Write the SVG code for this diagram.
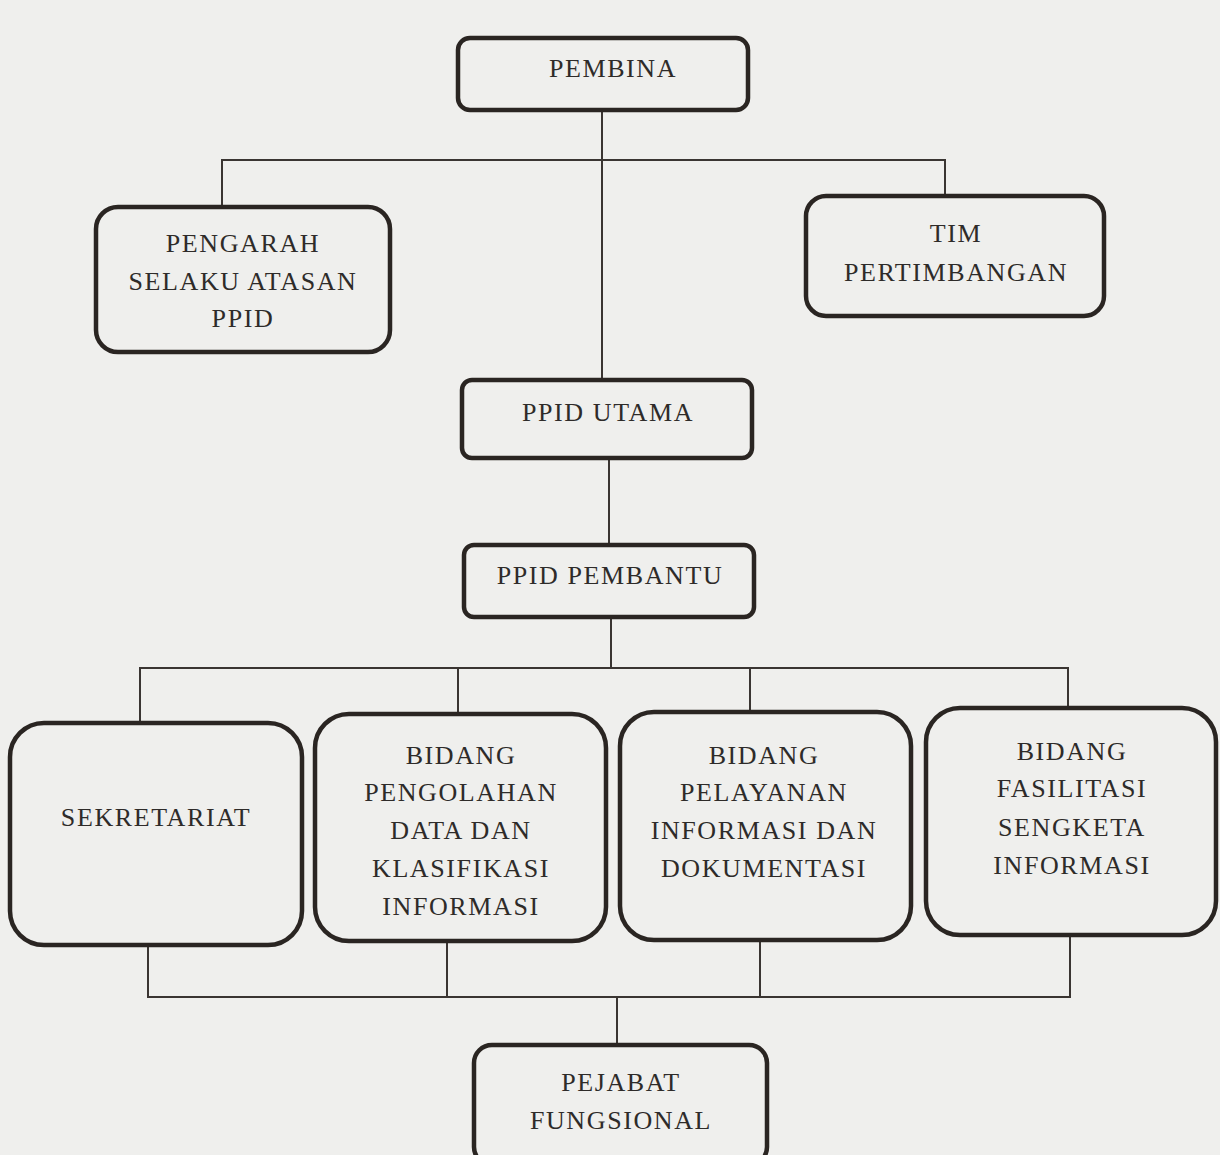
<svg xmlns="http://www.w3.org/2000/svg" width="1220" height="1155" viewBox="0 0 1220 1155">
<style>
.box{fill:#efefed;stroke:#2a2522;stroke-width:4.5}
.ln{stroke:#3a3532;stroke-width:2;fill:none}
text{font-family:"Liberation Serif","DejaVu Serif",serif;font-size:26px;letter-spacing:1.6px;fill:#2e2b29;text-anchor:middle}
</style>
<rect width="1220" height="1155" fill="#efefed"/>
<g id="connectors">
<path class="ln" d="M602 110V380"/>
<path class="ln" d="M222 207V160H945V195"/>
<path class="ln" d="M609 458V545"/>
<path class="ln" d="M611 617V668"/>
<path class="ln" d="M140 723V668H1068V708"/>
<path class="ln" d="M458 668V714"/>
<path class="ln" d="M750 668V712"/>
<path class="ln" d="M148 945V997H1070V935"/>
<path class="ln" d="M447 941V997"/>
<path class="ln" d="M760 940V997"/>
<path class="ln" d="M617 997V1045"/>
</g>
<g id="pembina"><rect class="box" x="458" y="38" width="290" height="72" rx="12"/><text x="613" y="77">PEMBINA</text></g>
<g id="pengarah"><rect class="box" x="96" y="207" width="294" height="145" rx="22"/><text x="243" y="252">PENGARAH</text><text x="243" y="290">SELAKU ATASAN</text><text x="243" y="327">PPID</text></g>
<g id="tim"><rect class="box" x="806" y="196" width="298" height="120" rx="20"/><text x="956" y="242">TIM</text><text x="956" y="281">PERTIMBANGAN</text></g>
<g id="ppid-utama"><rect class="box" x="462" y="380" width="290" height="78" rx="10"/><text x="608" y="421">PPID UTAMA</text></g>
<g id="ppid-pembantu"><rect class="box" x="464" y="545" width="290" height="72" rx="10"/><text x="610" y="584">PPID PEMBANTU</text></g>
<g id="sekretariat"><rect class="box" x="10" y="723" width="292" height="222" rx="34"/><text x="156" y="826">SEKRETARIAT</text></g>
<g id="pengolahan"><rect class="box" x="315" y="714" width="291" height="227" rx="34"/><text x="461" y="764">BIDANG</text><text x="461" y="801">PENGOLAHAN</text><text x="461" y="839">DATA  DAN</text><text x="461" y="877">KLASIFIKASI</text><text x="461" y="915">INFORMASI</text></g>
<g id="pelayanan"><rect class="box" x="620" y="712" width="291" height="228" rx="34"/><text x="764" y="764">BIDANG</text><text x="764" y="801">PELAYANAN</text><text x="764" y="839">INFORMASI DAN</text><text x="764" y="877">DOKUMENTASI</text></g>
<g id="fasilitasi"><rect class="box" x="926" y="708" width="290" height="227" rx="34"/><text x="1072" y="760">BIDANG</text><text x="1072" y="797">FASILITASI</text><text x="1072" y="836">SENGKETA</text><text x="1072" y="874">INFORMASI</text></g>
<g id="pejabat"><rect class="box" x="474" y="1045" width="293" height="120" rx="18"/><text x="621" y="1091">PEJABAT</text><text x="621" y="1129">FUNGSIONAL</text></g>
</svg>
